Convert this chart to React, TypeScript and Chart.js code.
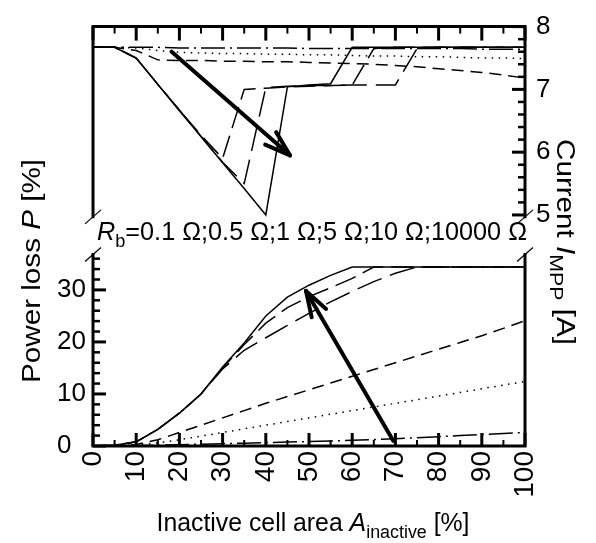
import React, { useEffect, useRef } from "react";
import { Chart, registerables } from "chart.js";

Chart.register(...registerables);

// ---------- data ----------
const X_VALUES = [0, 5, 10, 15, 20, 25, 30, 35, 40, 45, 50, 55, 60, 65, 70, 75, 80, 85, 90, 95, 100];

const SERIES_LABELS = ["0.1 Ω", "0.5 Ω", "1 Ω", "5 Ω", "10 Ω", "10000 Ω"];

// Current I_MPP [A] (upper panel)
const I_R01 = [7.67, 7.67, 7.67, 7.67, 7.66, 7.66, 7.66, 7.66, 7.66, 7.66, 7.65, 7.65, 7.65, 7.65, 7.65, 7.65, 7.65, 7.65, 7.64, 7.64, 7.64];
const I_R05 = [7.67, 7.67, 7.66, 7.62, 7.59, 7.58, 7.57, 7.57, 7.56, 7.56, 7.55, 7.55, 7.54, 7.53, 7.53, 7.52, 7.52, 7.51, 7.5, 7.5, 7.49];
const I_R1 = [7.67, 7.67, 7.62, 7.47, 7.46, 7.46, 7.45, 7.45, 7.44, 7.44, 7.43, 7.42, 7.41, 7.4, 7.38, 7.36, 7.33, 7.3, 7.27, 7.23, 7.18];
const I_R5 = [7.67, 7.67, 7.5, 7.08, 6.67, 6.27, 5.9, 7.0, 7.02, 7.04, 7.05, 7.06, 7.07, 7.65, 7.67, 7.67, 7.67, 7.67, 7.67, 7.67, 7.67];
const I_R10 = [7.67, 7.67, 7.5, 7.08, 6.67, 6.25, 5.84, 5.5, 7.03, 7.05, 7.06, 7.06, 7.07, 7.07, 7.07, 7.65, 7.67, 7.67, 7.67, 7.67, 7.67];
const I_R10000 = [7.67, 7.67, 7.5, 7.08, 6.66, 6.25, 5.83, 5.42, 5.0, 7.04, 7.07, 7.09, 7.67, 7.67, 7.67, 7.67, 7.67, 7.67, 7.67, 7.67, 7.67];

// Power loss P [%] (lower panel)
const P_R01 = [0, 0, 0.05, 0.15, 0.25, 0.35, 0.45, 0.55, 0.65, 0.75, 0.85, 0.95, 1.1, 1.25, 1.4, 1.6, 1.8, 2.0, 2.2, 2.4, 2.6];
const P_R05 = [0, 0, 0.2, 0.6, 1.2, 1.9, 2.6, 3.3, 4.0, 4.7, 5.4, 6.1, 6.8, 7.5, 8.2, 8.9, 9.6, 10.3, 11.0, 11.7, 12.4];
const P_R1 = [0, 0, 0.3, 1.2, 2.6, 4.0, 5.4, 6.8, 8.2, 9.5, 10.8, 12.1, 13.4, 14.7, 16.0, 17.3, 18.6, 19.9, 21.2, 22.6, 24.1];
const P_R5 = [0, 0.15, 0.8, 3.2, 6.3, 10.0, 15.0, 19.5, 23.6, 26.6, 28.7, 30.4, 32.2, 34.4, 34.4, 34.4, 34.4, 34.4, 34.4, 34.4, 34.4];
const P_R10 = [0, 0.15, 0.8, 3.2, 6.3, 10.0, 14.8, 18.4, 20.8, 23.2, 25.5, 27.7, 29.7, 31.6, 33.2, 34.4, 34.4, 34.4, 34.4, 34.4, 34.4];
const P_R10000 = [0, 0.15, 0.8, 3.2, 6.3, 10.0, 15.2, 19.8, 25.0, 28.6, 30.9, 32.8, 34.4, 34.4, 34.4, 34.4, 34.4, 34.4, 34.4, 34.4, 34.4];

// ticks
const X_TICKS = [0, 10, 20, 30, 40, 50, 60, 70, 80, 90, 100];
const X_MINOR = [5, 15, 25, 35, 45, 55, 65, 75, 85, 95];
const P_TICKS = [0, 10, 20, 30];
const P_MINOR = [2, 4, 6, 8, 12, 14, 16, 18, 22, 24, 26, 28, 32, 34, 36];
const I_TICKS = [5, 6, 7, 8];
const I_MINOR = [5.2, 5.4, 5.6, 5.8, 6.2, 6.4, 6.6, 6.8, 7.2, 7.4, 7.6, 7.8];

// visible axis extents of the two broken panels
const I_AXIS_RANGE = [4.97, 8];
const P_AXIS_RANGE = [0, 36.8];

// arrows (data units)
const ARROW_I_X = [18.2, 45.6];
const ARROW_I_Y = [7.6, 5.95];
const ARROW_P_X = [69.5, 49.3];
const ARROW_P_Y = [1.0, 29.8];

// ---------- style ----------
const FONT = '"Liberation Sans", Arial, Helvetica, sans-serif';
const DASHES: number[][] = [
  [24, 5, 2, 5],
  [1.5, 5.5],
  [12, 7],
  [22, 8],
  [26, 9],
  [],
];

type Part = { t: string; italic?: boolean; sub?: boolean };

function drawRich(
  ctx: CanvasRenderingContext2D,
  parts: Part[],
  size: number,
  x: number,
  y: number,
  rot: number,
  align: "left" | "center",
  width?: number
) {
  const fontFor = (p: Part) =>
    `${p.italic ? "italic " : ""}${p.sub ? Math.round(size * 0.72) : size}px ${FONT}`;
  let total = 0;
  const widths = parts.map((p) => {
    ctx.font = fontFor(p);
    const w = ctx.measureText(p.t).width;
    total += w;
    return w;
  });
  const sx = width ? width / total : 1;
  ctx.save();
  ctx.translate(x, y);
  ctx.rotate(rot);
  ctx.scale(sx, 1);
  let cx = align === "center" ? -total / 2 : 0;
  ctx.textBaseline = "alphabetic";
  ctx.textAlign = "left";
  ctx.fillStyle = "#000";
  parts.forEach((p, i) => {
    ctx.font = fontFor(p);
    ctx.fillText(p.t, cx, p.sub ? size * 0.28 : 0);
    cx += widths[i];
  });
  ctx.restore();
}

const framePlugin = {
  id: "frame",
  afterDatasetsDraw(chart: any) {
    const ctx: CanvasRenderingContext2D = chart.ctx;
    const xs = chart.scales.x;
    const yP = chart.scales.yP;
    const yI = chart.scales.yI;
    const X = (v: number) => xs.getPixelForValue(v);
    const L = X(0);
    const R = X(100);
    const tTop = yI.getPixelForValue(I_AXIS_RANGE[1]);
    const tBot = yI.getPixelForValue(I_AXIS_RANGE[0]);
    const bTop = yP.getPixelForValue(P_AXIS_RANGE[1]);
    const bBot = yP.getPixelForValue(P_AXIS_RANGE[0]);

    ctx.save();
    ctx.strokeStyle = "#000";
    ctx.lineCap = "square";
    ctx.lineJoin = "miter";
    ctx.lineWidth = 3;
    ctx.beginPath();
    ctx.moveTo(L, tBot);
    ctx.lineTo(L, tTop);
    ctx.lineTo(R, tTop);
    ctx.lineTo(R, tBot);
    ctx.stroke();
    ctx.beginPath();
    ctx.moveTo(L, bTop);
    ctx.lineTo(L, bBot);
    ctx.lineTo(R, bBot);
    ctx.lineTo(R, bTop);
    ctx.stroke();

    const seg = (x1: number, y1: number, x2: number, y2: number, w: number) => {
      ctx.lineWidth = w;
      ctx.beginPath();
      ctx.moveTo(x1, y1);
      ctx.lineTo(x2, y2);
      ctx.stroke();
    };
    ctx.lineCap = "butt";
    X_TICKS.forEach((v) => {
      seg(X(v), tTop, X(v), tTop + 14, 3);
      seg(X(v), bBot, X(v), bBot - 13, 3);
    });
    X_MINOR.forEach((v) => {
      seg(X(v), tTop, X(v), tTop + 7, 2);
      seg(X(v), bBot, X(v), bBot - 6, 2);
    });
    P_TICKS.forEach((v) => seg(L, yP.getPixelForValue(v), L + 13, yP.getPixelForValue(v), 3));
    P_MINOR.forEach((v) => seg(L, yP.getPixelForValue(v), L + 7, yP.getPixelForValue(v), 2.5));
    I_TICKS.forEach((v) => seg(R, yI.getPixelForValue(v), R - 13, yI.getPixelForValue(v), 3));
    I_MINOR.forEach((v) => seg(R, yI.getPixelForValue(v), R - 7, yI.getPixelForValue(v), 2.5));

    [
      [L, tBot],
      [R, tBot],
      [L, bTop],
      [R, bTop],
    ].forEach(([cx, cy]) => seg(cx - 8, cy + 7, cx + 8, cy - 7, 1.2));

    const arrow = (x0: number, y0: number, x1: number, y1: number) => {
      ctx.lineCap = "round";
      seg(x0, y0, x1, y1, 4);
      const a = Math.atan2(y0 - y1, x0 - x1);
      const len = 27;
      const spread = (18 * Math.PI) / 180;
      [a - spread, a + spread].forEach((b) =>
        seg(x1, y1, x1 + len * Math.cos(b), y1 + len * Math.sin(b), 4)
      );
    };
    arrow(X(ARROW_I_X[0]), yI.getPixelForValue(ARROW_I_Y[0]), X(ARROW_I_X[1]), yI.getPixelForValue(ARROW_I_Y[1]));
    arrow(X(ARROW_P_X[0]), yP.getPixelForValue(ARROW_P_Y[0]), X(ARROW_P_X[1]), yP.getPixelForValue(ARROW_P_Y[1]));
    ctx.restore();

    drawRich(
      ctx,
      [{ t: "R", italic: true }, { t: "b", sub: true }, { t: "=" + SERIES_LABELS.join(";") }],
      25, L + 4, 240, 0, "left", 430
    );
    drawRich(
      ctx,
      [{ t: "Inactive cell area " }, { t: "A", italic: true }, { t: "inactive", sub: true }, { t: " [%]" }],
      25, 313, 531, 0, "center", 313
    );
    drawRich(
      ctx,
      [{ t: "Power loss " }, { t: "P", italic: true }, { t: " [%]" }],
      25, 40, 271, -Math.PI / 2, "center", 224
    );
    drawRich(
      ctx,
      [{ t: "Current " }, { t: "I", italic: true }, { t: "MPP", sub: true }, { t: " [A]" }],
      25, 557, 242, Math.PI / 2, "center", 206
    );
  },
};

function pts(ys: number[]) {
  return X_VALUES.map((x, i) => ({ x, y: ys[i] }));
}

export default function App() {
  const ref = useRef<HTMLCanvasElement | null>(null);
  useEffect(() => {
    if (!ref.current) return;
    const I_SERIES = [I_R01, I_R05, I_R1, I_R5, I_R10, I_R10000];
    const P_SERIES = [P_R01, P_R05, P_R1, P_R5, P_R10, P_R10000];
    const mk = (ys: number[], i: number, axis: string, name: string) => ({
      label: `${name} ${SERIES_LABELS[i]}`,
      data: pts(ys),
      yAxisID: axis,
      borderColor: "#000",
      backgroundColor: "#000",
      borderWidth: 1.5,
      borderDash: DASHES[i],
      pointRadius: 0,
      tension: 0,
      fill: false,
    });
    const datasets = [
      ...I_SERIES.map((s, i) => mk(s, i, "yI", "I_MPP")),
      ...P_SERIES.map((s, i) => mk(s, i, "yP", "P")),
    ];
    const tickFont = { family: FONT, size: 26 };
    const chart = new Chart(ref.current, {
      type: "line",
      data: { datasets },
      plugins: [framePlugin],
      options: {
        animation: false,
        responsive: false,
        devicePixelRatio: 1,
        layout: { padding: { top: 14, left: 57, right: 0, bottom: 0 } },
        plugins: { legend: { display: false }, tooltip: { enabled: false } },
        scales: {
          x: {
            type: "linear",
            position: "bottom",
            min: 0,
            max: 100,
            afterBuildTicks: (s: any) => {
              s.ticks = X_TICKS.map((v) => ({ value: v }));
            },
            afterFit: (s: any) => {
              s.height = 97;
            },
            ticks: { autoSkip: false, maxRotation: 90, minRotation: 90, color: "#000", font: { family: FONT, size: 28 }, padding: 5 },
            grid: { display: false, drawTicks: false },
            border: { display: false },
          },
          yP: {
            type: "linear",
            position: "left",
            min: 0,
            max: 80.6,
            afterBuildTicks: (s: any) => {
              s.ticks = P_TICKS.map((v) => ({ value: v }));
            },
            afterFit: (s: any) => {
              s.width = 36;
            },
            ticks: { color: "#000", font: tickFont, padding: 10, crossAlign: "far" },
            grid: { display: false, drawTicks: false },
            border: { display: false },
          },
          yI: {
            type: "linear",
            position: "right",
            min: 1.32,
            max: 8,
            afterBuildTicks: (s: any) => {
              s.ticks = I_TICKS.map((v) => ({ value: v }));
            },
            afterFit: (s: any) => {
              s.width = 71;
            },
            ticks: { color: "#000", font: tickFont, padding: 11 },
            grid: { display: false, drawTicks: false },
            border: { display: false },
          },
        },
      } as any,
    });
    return () => chart.destroy();
  }, []);
  return (
    <div style={{ position: "fixed", left: 0, top: 0, width: 596, height: 543, background: "#fff" }}>
      <canvas ref={ref} width={596} height={543} style={{ display: "block", width: 596, height: 543 }} />
    </div>
  );
}
